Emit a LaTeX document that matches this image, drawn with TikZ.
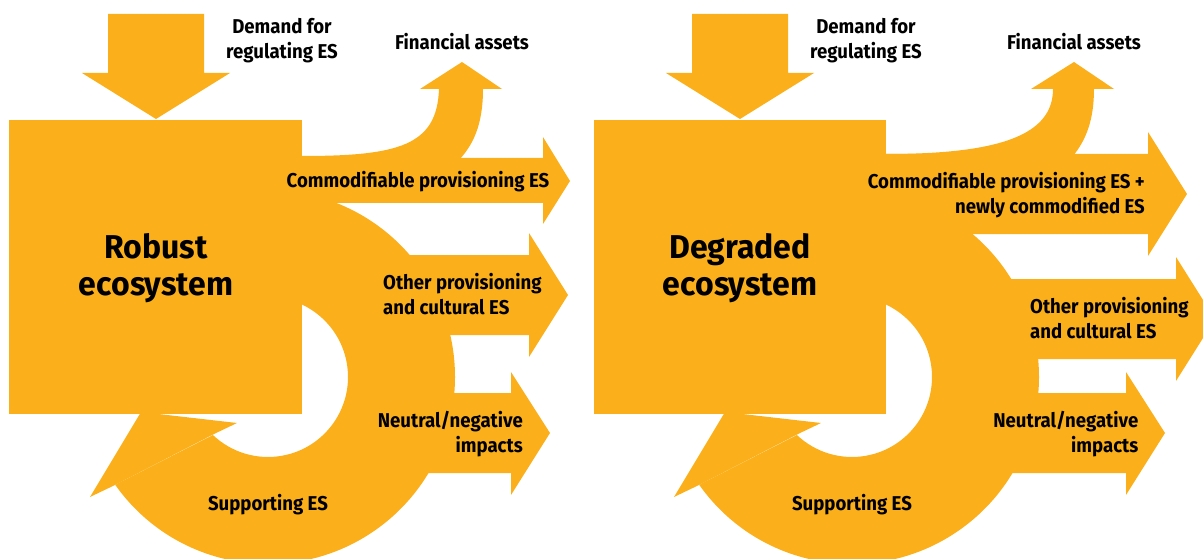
\documentclass[tikz,border=0pt]{standalone}
\usepackage{fontspec}
\newfontfamily\labfont{Fira Sans}[FakeStretch=0.93]
\newfontfamily\bigfont{Fira Sans}[FakeStretch=0.97]
\definecolor{eso}{RGB}{251,176,27}
\begin{document}
\begin{tikzpicture}[x=1pt,y=-1pt,
  es/.style={fill=eso},
  lab/.style={font=\labfont\bfseries\fontsize{20}{25}\selectfont, inner sep=0pt, text=black},
  big/.style={font=\bigfont\bfseries\fontsize{33}{37}\selectfont, inner sep=0pt, align=center, text=black}]
\useasboundingbox (0,0) rectangle (1203,559);
\clip (0,0) rectangle (1203,559);
% ===== Left panel =====
% down arrow
\fill[es] (108,14) -- (204,14) -- (204,73) -- (230,73) -- (156,119) -- (82,73) -- (108,73) -- cycle;
% box
\fill[es] (9,120) rectangle (302,414);
% ring
\fill[es] (268,377) ++(144.8:187) arc[start angle=144.8, end angle=-100, radius=187]
  -- (254.1,298.2) arc[start angle=-100, end angle=133.5, radius=80] -- cycle;
% supporting head
\fill[es] (115,485) -- (90,497) -- (141,412) -- (237,423) -- (214,434) -- cycle;
% financial
\fill[es] (300,156) -- (302,156) .. controls (400,156) and (437,145) .. (439,89) -- (420,89) -- (462,62) -- (502,89) -- (483,89) .. controls (483,125) and (473,145) .. (459,160) -- (300,160) -- cycle;
% commodifiable
\fill[es] (300,158) -- (543,158) -- (543,137) -- (570,181) -- (543,224) -- (543,203) -- (300,203) -- cycle;
% other provisioning
\fill[es] (380,255) -- (529,255) -- (529,233) -- (568,295) -- (529,357) -- (529,335) -- (380,335) -- cycle;
% neutral
\fill[es] (400,393) -- (511,393) -- (511,372) -- (550,433) -- (511,495) -- (511,473) -- (400,473) -- cycle;
% texts
\node[lab, align=center] (dL) at (282,40.5) {Demand for\\regulating ES};
\node[lab, anchor=base] (fL) at (462,50) {Financial assets};
\node[lab, anchor=base] (cL) at (418,188) {Commodifiable provisioning ES};
\node[big] (eL) at (156,268) {Robust\\ecosystem};
\node[lab, align=left, anchor=west] (oL) at (383,294) {Other provisioning\\and cultural ES};
\node[lab, align=right, anchor=east] (nL) at (523,434) {Neutral/negative\\impacts};
\node[lab, anchor=base] (sL) at (268,510) {Supporting ES};
% ===== Right panel =====
\fill[es] (692,14) -- (788,14) -- (788,73) -- (814,73) -- (740,119) -- (666,73) -- (692,73) -- cycle;
\fill[es] (594,120) rectangle (886,414);
\fill[es] (852,377) ++(144.8:187) arc[start angle=144.8, end angle=-100, radius=187]
  -- (838.1,298.2) arc[start angle=-100, end angle=133.5, radius=80] -- cycle;
\fill[es] (699,485) -- (674,497) -- (725,412) -- (821,423) -- (798,434) -- cycle;
\fill[es] (884,154) -- (886,154) .. controls (1000,154) and (1053,135) .. (1053,89) -- (1031,89) -- (1074,62) -- (1114,89) -- (1094,89) .. controls (1094,120) and (1086,140) .. (1073,156) -- (884,156) -- cycle;
\fill[es] (884,154) -- (1148,154) -- (1148,132) -- (1187,194) -- (1148,256) -- (1148,234) -- (884,234) -- cycle;
\fill[es] (960,279) -- (1176,279) -- (1176,257) -- (1215,319) -- (1176,381) -- (1176,359) -- (960,359) -- cycle;
\fill[es] (984,393) -- (1126,393) -- (1126,372) -- (1165,433) -- (1126,495) -- (1126,473) -- (984,473) -- cycle;
\node[lab, align=center] (dR) at (866,40.5) {Demand for\\regulating ES};
\node[lab, anchor=base] (fR) at (1074,50) {Financial assets};
\node[lab, align=right, anchor=east] (cR) at (1145,195.5) {Commodifiable provisioning ES +\\newly commodified ES};
\node[big] (eR) at (740,268) {Degraded\\ecosystem};
\node[lab, align=left, anchor=west] (oR) at (1030,318) {Other provisioning\\and cultural ES};
\node[lab, align=right, anchor=east] (nR) at (1138.5,434) {Neutral/negative\\impacts};
\node[lab, anchor=base] (sR) at (852,510) {Supporting ES};
\end{tikzpicture}
\end{document}
